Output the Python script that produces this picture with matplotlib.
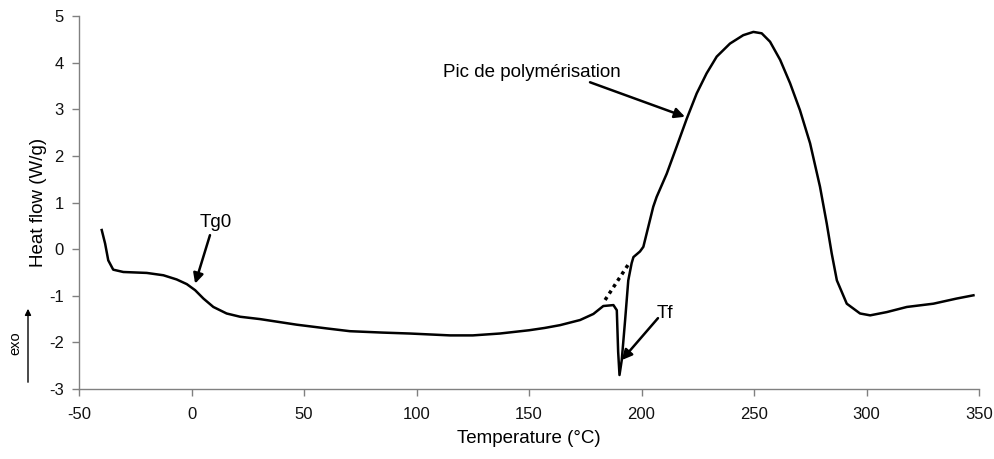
import numpy as np
import matplotlib.pyplot as plt
from matplotlib.patches import FancyArrowPatch

plt.rcParams['font.family'] = ['Liberation Sans', 'DejaVu Sans']
plt.rcParams['axes.unicode_minus'] = False

# DSC curve
temp = [-39.9, -38.4, -37.0, -34.8, -30.3, -19.9, -12.5, -6.6, -2.1, 1.6, 5.3, 9.7,
        15.6, 21.6, 30.4, 46.7, 60.0, 70.4, 85.0, 97.1, 114.9, 125.0, 137.0, 150.0,
        157.0, 163.8, 172.7, 178.6, 183.0, 187.5, 189.0, 189.6, 190.2, 191.2, 192.7,
        194.1, 195.6, 196.4, 199.3, 200.8, 203.0, 205.2, 206.7, 211.2, 215.6, 220.1,
        224.5, 228.9, 233.4, 239.3, 245.2, 249.7, 253.4, 257.1, 261.6, 266.0, 270.4,
        274.9, 279.3, 282.3, 284.5, 286.8, 291.2, 297.1, 301.6, 309.0, 317.9, 329.7,
        340.0, 347.5]
heat_flow = [0.41, 0.12, -0.24, -0.44, -0.49, -0.51, -0.56, -0.65, -0.75, -0.88, -1.06, -1.24,
             -1.38, -1.45, -1.50, -1.62, -1.70, -1.76, -1.79, -1.81, -1.85, -1.85, -1.81, -1.74,
             -1.69, -1.63, -1.52, -1.39, -1.22, -1.20, -1.31, -2.20, -2.70, -2.38, -1.52,
             -0.67, -0.30, -0.17, -0.05, 0.05, 0.48, 0.91, 1.12, 1.62, 2.20, 2.80,
             3.34, 3.77, 4.13, 4.41, 4.59, 4.66, 4.63, 4.45, 4.06, 3.56, 2.98,
             2.27, 1.34, 0.55, -0.09, -0.67, -1.17, -1.38, -1.42, -1.35, -1.24, -1.17,
             -1.06, -0.99]

# dotted baseline extrapolation
base_t = [183.8, 194.9]
base_hf = [-1.09, -0.27]

fig = plt.figure(figsize=(9.95, 4.59), dpi=100)
ax = fig.add_axes([0.0794, 0.1525, 0.9046, 0.8125])

ax.plot(temp, heat_flow, color='black', lw=1.8, solid_joinstyle='round')
ax.plot(base_t, base_hf, color='black', lw=2.5, ls=(0, (1, 1.2)))

ax.set_xlim(-50, 350)
ax.set_ylim(-3, 5)
ax.set_xticks(np.arange(-50, 351, 50))
ax.set_yticks(np.arange(-3, 6, 1))

for s in ['top', 'right']:
    ax.spines[s].set_visible(False)
for s in ['left', 'bottom']:
    ax.spines[s].set_color('#808080')
    ax.spines[s].set_linewidth(1.0)
ax.tick_params(colors='#808080', labelcolor='#111111', length=5, width=1.0,
               labelsize=12, direction='out')
ax.tick_params(axis='x', pad=8)
ax.tick_params(axis='y', pad=6)

ax.set_xlabel('Temperature (°C)', fontsize=13.5, labelpad=6)
ax.set_ylabel('Heat flow (W/g)', fontsize=13.5, labelpad=1)

arrow = dict(arrowstyle='-|>', color='black', lw=1.8, mutation_scale=15, shrinkA=0, shrinkB=0)
ax.text(10.9, 0.58, 'Tg0', fontsize=13.5, ha='center', va='center')
ax.annotate('', xy=(1.6, -0.74), xytext=(8.2, 0.30), arrowprops=arrow)
ax.text(151.3, 3.8, 'Pic de polymérisation', fontsize=13.5, ha='center', va='center')
ax.annotate('', xy=(219.3, 2.84), xytext=(177.1, 3.58), arrowprops=arrow)
ax.text(210.5, -1.37, 'Tf', fontsize=13.5, ha='center', va='center')
ax.annotate('', xy=(191.2, -2.38), xytext=(207.3, -1.48), arrowprops=arrow)

# exo arrow on the left
fig.text(15 / 995, 1 - 343 / 459, 'exo', rotation=90, fontsize=10.5, ha='center', va='center')
fig.add_artist(FancyArrowPatch(
    (28 / 995, 1 - 385 / 459), (28 / 995, 1 - 306 / 459), transform=fig.transFigure,
    arrowstyle='-|>', mutation_scale=9, color='black', lw=1.0))

fig.savefig('out.png', dpi=100)
